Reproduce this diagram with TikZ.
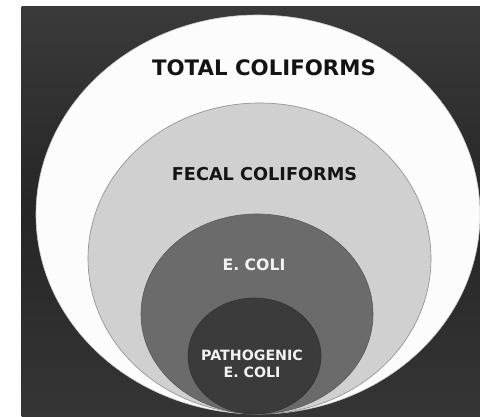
\documentclass[tikz,border=0pt]{standalone}
\usepackage{fontspec}
\setmainfont{DejaVu Sans}
\begin{document}
\begin{tikzpicture}[x=1pt,y=-1pt,
  lbl/.style={font=\bfseries, align=center, inner sep=0pt},
  ring/.style={line width=0.6pt}]
\definecolor{bgtop}{HTML}{3A3A3A}
\definecolor{bgmid}{HTML}{262626}
\definecolor{bgbot}{HTML}{353535}
\definecolor{tot}{HTML}{FCFCFC}
\definecolor{fec}{HTML}{D0D0D0}
\definecolor{eco}{HTML}{6B6B6B}
\definecolor{pat}{HTML}{3B3B3B}
\useasboundingbox (0,0) rectangle (480,417);
\fill[white] (0,0) rectangle (480,417);
\shade[top color=bgtop, bottom color=bgbot, middle color=bgmid] (21.7,6.7) rectangle (480,417);
\begin{scope}
\clip (21.7,6.7) rectangle (480,417);
\filldraw[ring, fill=tot, draw=gray!40] (258,214.5) ellipse [x radius=222pt, y radius=199.5pt];
\end{scope}
\filldraw[ring, fill=fec, draw=black!45] (259.5,258.5) ellipse [x radius=171.5pt, y radius=155.5pt];
\filldraw[ring, fill=eco, draw=black!65] (257,314) ellipse [x radius=116pt, y radius=100pt];
\filldraw[ring, fill=pat, draw=black!80] (254.5,356) ellipse [x radius=66.5pt, y radius=58pt];
\node[lbl, text=black!92, font=\fontsize{21.3}{25}\bfseries] (total) at (264,68) {TOTAL COLIFORMS};
\node[lbl, text=black!92, font=\fontsize{17.7}{21}\bfseries] (fecal) at (264.5,174) {FECAL COLIFORMS};
\node[lbl, text=white!95!black, font=\fontsize{15.7}{19}\bfseries] (ecoli) at (254,265) {E. COLI};
\node[lbl, text=white!95!black, font=\fontsize{14.2}{17}\bfseries] (patho) at (252,363.5) {PATHOGENIC\\E. COLI};
\end{tikzpicture}
\end{document}
